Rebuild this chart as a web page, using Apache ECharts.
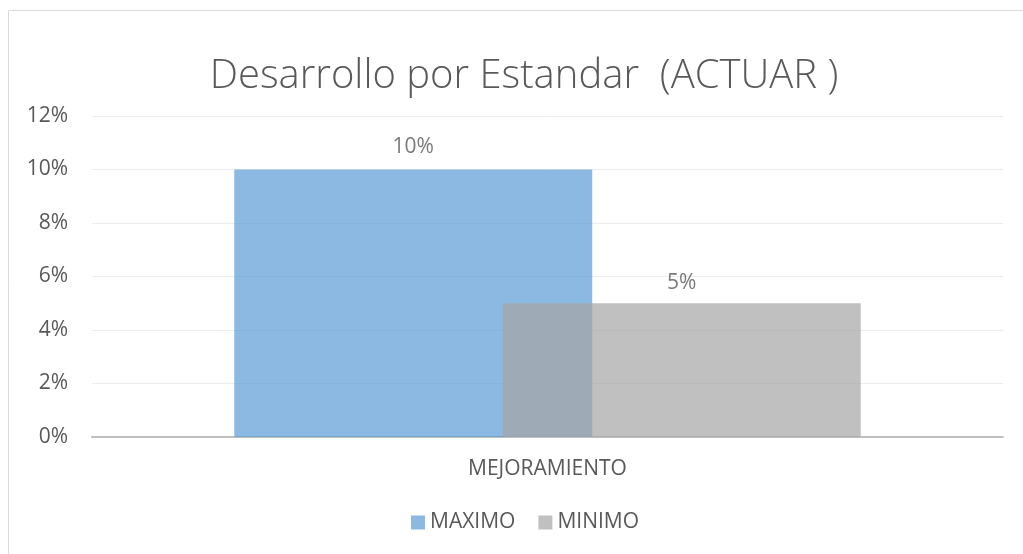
<!DOCTYPE html>
<html>
<head>
<meta charset="utf-8">
<script src="https://cdn.jsdelivr.net/npm/echarts@6/dist/echarts.min.js"></script>
<style>
  html, body { margin: 0; padding: 0; background: #fff; }
  #chart { width: 1023px; height: 554px; }
</style>
</head>
<body>
<div id="chart"></div>
<script>
var categories = ["MEJORAMIENTO"];
var maximoValues = [0.10];
var minimoValues = [0.05];
var seriesNames = ["MAXIMO", "MINIMO"];

var myChart = echarts.init(document.getElementById("chart"));
var textColor = "#595959";
var fontFamily = "'Open Sans', 'Liberation Sans', sans-serif";

function pct(v) {
  return Math.round(v * 100) + "%";
}

var option = {
  animation: false,
  backgroundColor: "#fff",
  title: {
    text: "Desarrollo por Estandar  (ACTUAR )",
    left: 519,
    textAlign: "center",
    top: 52,
    textStyle: {
      fontFamily: fontFamily,
      fontWeight: 300,
      fontSize: 40,
      color: textColor,
    },
  },
  // marco del grafico
  graphic: [
    {
      type: "rect",
      shape: { x: 8.5, y: 10.5, width: 1030, height: 560 },
      style: { fill: "none", stroke: "#d9d9d9", lineWidth: 1 },
      silent: true,
    },
  ],
  grid: {
    left: 92,
    right: 20,
    top: 116,
    bottom: 117,
  },
  legend: {
    data: seriesNames,
    bottom: 16,
    left: 406,
    icon: "rect",
    itemWidth: 14,
    itemHeight: 14,
    itemGap: 23,
    textStyle: {
      fontFamily: fontFamily,
      fontSize: 21,
      color: textColor,
    },
  },
  xAxis: {
    type: "category",
    data: categories,
    axisLine: { lineStyle: { color: "#bfbfbf", width: 2 } },
    axisTick: { show: false },
    axisLabel: {
      margin: 22,
      fontFamily: fontFamily,
      fontSize: 21,
      color: textColor,
    },
  },
  yAxis: {
    type: "value",
    min: 0,
    max: 0.12,
    interval: 0.02,
    axisLine: { show: false },
    axisTick: { show: false },
    splitLine: { lineStyle: { color: "#ececec", width: 1 } },
    axisLabel: {
      margin: 24,
      fontFamily: fontFamily,
      fontSize: 21,
      color: textColor,
      formatter: pct,
    },
  },
  series: [
    {
      name: seriesNames[0],
      type: "bar",
      data: maximoValues,
      barWidth: 358,
      barGap: "-25%",
      itemStyle: { color: "#5b9bd5", opacity: 0.7 },
      label: {
        show: true,
        position: "top",
        distance: 12,
        fontFamily: fontFamily,
        fontSize: 21,
        color: "#404040",
        formatter: function (p) { return pct(p.value); },
      },
    },
    {
      name: seriesNames[1],
      type: "bar",
      data: minimoValues,
      barWidth: 358,
      barGap: "-25%",
      itemStyle: { color: "#a5a5a5", opacity: 0.7 },
      label: {
        show: true,
        position: "top",
        distance: 10,
        fontFamily: fontFamily,
        fontSize: 21,
        color: "#404040",
        formatter: function (p) { return pct(p.value); },
      },
    },
  ],
};
myChart.setOption(option);
window.addEventListener("resize", function () {
  myChart.resize();
});
</script>
</body>
</html>
